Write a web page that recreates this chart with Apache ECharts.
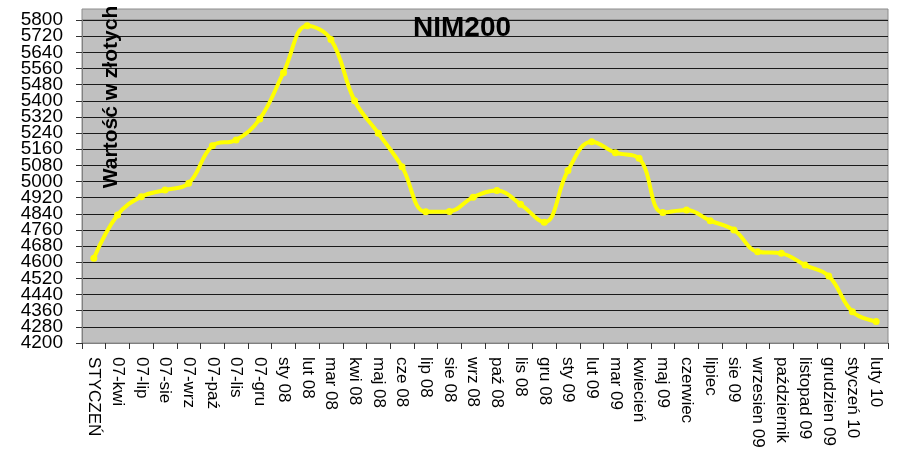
<!DOCTYPE html>
<html>
<head>
<meta charset="utf-8">
<script src="https://cdn.jsdelivr.net/npm/echarts@6/dist/echarts.min.js"></script>
<style>
  html, body { margin: 0; padding: 0; background: #fff; }
  #chart { width: 900px; height: 465px; }
</style>
</head>
<body>
<div id="chart"></div>
<script>
var months = ['STYCZEŃ', '07-kwi', '07-lip', '07-sie', '07-wrz', '07-paź', '07-lis', '07-gru',
    'sty 08', 'lut 08', 'mar 08', 'kwi 08', 'maj 08', 'cze 08', 'lip 08', 'sie 08', 'wrz 08',
    'paź 08', 'lis 08', 'gru 08', 'sty 09', 'lut 09', 'mar 09', 'kwiecień', 'maj 09', 'czerwiec',
    'lipiec', 'sie 09', 'wrzesien 09', 'październik', 'listopad 09', 'grudzien 09', 'styczeń 10', 'luty 10'];

var nimValues = [4620, 4834, 4925, 4958, 4991, 5177, 5206, 5310,
    5539, 5772, 5704, 5400, 5239, 5073, 4850, 4852, 4922,
    4955, 4887, 4798, 5054, 5197, 5143, 5115, 4846, 4859,
    4806, 4760, 4652, 4644, 4586, 4532, 4355, 4306];

var yMin = 4200, yMax = 5800, yStep = 80;

var font = 'Arial, "Liberation Sans", sans-serif';

// labels are split over two stacked axes so none of them gets hidden for overlapping
function stepIndex(v) { return Math.round((v - yMin) / yStep); }
var labelStyle = { margin: 19, fontFamily: font, fontSize: 19, color: '#000' };

var chart = echarts.init(document.getElementById('chart'));
chart.setOption({
    backgroundColor: '#ffffff',
    animation: false,
    title: {
        text: 'NIM200',
        left: 457,
        top: 9,
        textAlign: 'center',
        textStyle: {
            fontFamily: font,
            fontSize: 28,
            fontWeight: 'bold',
            color: '#000'
        }
    },
    grid: {
        left: 82,
        right: 12,
        top: 20,
        bottom: 122,
        show: true,
        backgroundColor: '#c0c0c0',
        borderColor: '#8c8c8c',
        borderWidth: 1
    },
    graphic: [
        {
            type: 'rect',
            z: -1,
            shape: { x: 82, y: 9, width: 806, height: 11 },
            style: { fill: '#c0c0c0', stroke: '#8c8c8c', lineWidth: 1 }
        },
        {
            type: 'text',
            z: 10,
            x: 111,
            y: 97,
            rotation: Math.PI / 2,
            style: {
                text: 'Wartość w złotych',
                fontFamily: font,
                fontSize: 21,
                fontWeight: 'bold',
                fill: '#000',
                align: 'center',
                verticalAlign: 'middle'
            }
        }
    ],
    xAxis: {
        type: 'category',
        data: months,
        boundaryGap: true,
        axisLine: { lineStyle: { color: '#808080', width: 1 } },
        axisTick: { show: true, length: 6, interval: 0, lineStyle: { color: '#333' } },
        axisLabel: {
            interval: 0,
            rotate: -90,
            margin: 14,
            fontFamily: font,
            fontSize: 17,
            color: '#000'
        },
        splitLine: { show: false }
    },
    yAxis: [
        {
            type: 'value',
            position: 'left',
            min: yMin,
            max: yMax,
            interval: yStep,
            axisLine: { show: true, lineStyle: { color: '#808080', width: 1 } },
            axisTick: { show: true, length: 6, lineStyle: { color: '#333' } },
            axisLabel: Object.assign({}, labelStyle, {
                showMinLabel: true,
                showMaxLabel: true,
                formatter: function (v) { return stepIndex(v) % 2 === 0 ? String(v) : ''; }
            }),
            splitLine: { show: true, lineStyle: { color: '#1a1a1a', width: 1 } }
        },
        {
            type: 'value',
            position: 'left',
            offset: 0,
            min: yMin,
            max: yMax,
            interval: yStep,
            axisLine: { show: false },
            axisTick: { show: false },
            splitLine: { show: false },
            axisLabel: Object.assign({}, labelStyle, {
                showMinLabel: false,
                showMaxLabel: false,
                formatter: function (v) { return stepIndex(v) % 2 === 1 ? String(v) : ''; }
            })
        }
    ],
    series: [{
        name: 'NIM200',
        type: 'line',
        data: nimValues,
        smooth: 0.4,
        symbol: 'circle',
        symbolSize: 7,
        lineStyle: { color: '#ffff00', width: 4 },
        itemStyle: { color: '#ffff00' }
    }]
});
</script>
</body>
</html>
